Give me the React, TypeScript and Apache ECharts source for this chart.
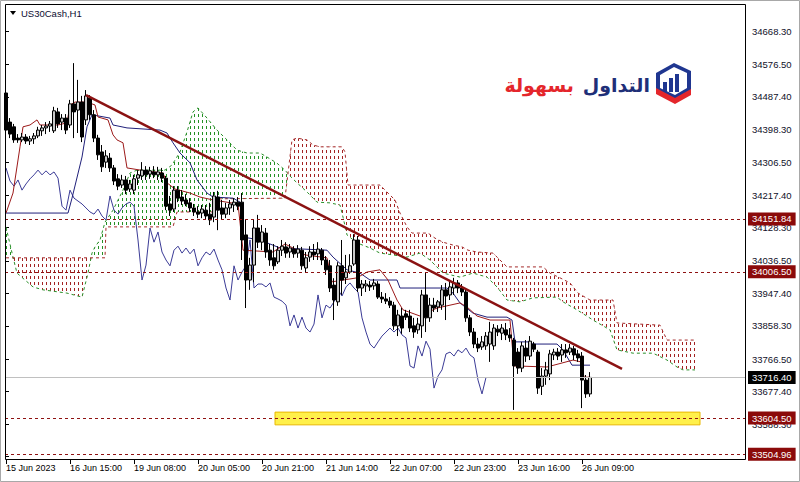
import React, { useEffect, useRef } from "react";
import * as echarts from "echarts";

// ---- price bars (hourly, index 0 = first visible bar) ----
const openPrices = [
  34498, 34418, 34405, 34374, 34369, 34377, 34366, 34372, 34380, 34394,
  34402, 34407, 34394, 34446, 34418, 34429, 34410, 34468, 34451, 34473,
  34424, 34484, 34438, 34374, 34336, 34308, 34319, 34292, 34262, 34245,
  34259, 34234, 34231, 34264, 34270, 34286, 34275, 34281, 34273, 34278,
  34264, 34193, 34179, 34231, 34212, 34204, 34196, 34182, 34171, 34168,
  34176, 34165, 34157, 34212, 34182, 34165, 34182, 34190, 34198, 34198,
  34108, 33984, 34025, 34127, 34088, 34113, 34066, 34045, 34034, 34066,
  34075, 34061, 34069, 34058, 34066, 34017, 34047, 34061, 34056, 34066,
  34039, 34023, 33970, 33924, 34023, 33990, 34006, 34028, 34094, 33962,
  33968, 33970, 33968, 33973, 33937, 33932, 33926, 33915, 33858, 33885,
  33891, 33885, 33858, 33847, 33858, 33943, 33880, 33915, 33910, 33915,
  33957, 33943, 33962, 33976, 33962, 33951, 33880, 33841, 33808, 33800,
  33803, 33808, 33803, 33849, 33838, 33847, 33833, 33819, 33786, 33742,
  33797, 33775, 33808, 33786, 33692, 33720, 33726, 33778, 33786, 33778,
  33792, 33786, 33795, 33781, 33775, 33709, 33671,
];
const highPrices = [
  34512, 34429, 34413, 34385, 34388, 34385, 34380, 34388, 34405, 34410,
  34418, 34421, 34460, 34457, 34440, 34440, 34479, 34580, 34534, 34490,
  34506, 34492, 34451, 34383, 34355, 34341, 34333, 34300, 34275, 34273,
  34270, 34259, 34273, 34286, 34308, 34297, 34295, 34297, 34295, 34292,
  34270, 34215, 34242, 34242, 34231, 34220, 34209, 34193, 34187, 34190,
  34190, 34196, 34226, 34229, 34204, 34196, 34204, 34209, 34212, 34223,
  34149, 34045, 34149, 34163, 34135, 34127, 34083, 34083, 34077, 34094,
  34088, 34083, 34077, 34080, 34075, 34061, 34077, 34083, 34088, 34072,
  34050, 34039, 33989, 34033, 34094, 34053, 34055, 34110, 34105, 33984,
  33984, 33981, 33987, 33981, 33951, 33948, 33937, 33924, 33902, 33907,
  33902, 33902, 33880, 33880, 33957, 34006, 33935, 33935, 33929, 33970,
  33976, 33979, 33990, 33984, 33973, 33957, 33888, 33852, 33825, 33830,
  33841, 33869, 33863, 33860, 33863, 33866, 33852, 33825, 33797, 33814,
  33819, 33830, 33814, 33792, 33742, 33759, 33792, 33795, 33797, 33808,
  33808, 33808, 33803, 33792, 33786, 33723, 33731,
];
const lowPrices = [
  34383, 34374, 34361, 34361, 34363, 34358, 34355, 34358, 34374, 34380,
  34385, 34391, 34388, 34402, 34396, 34385, 34402, 34374, 34388, 34363,
  34410, 34424, 34363, 34314, 34281, 34292, 34281, 34245, 34231, 34237,
  34220, 34226, 34220, 34245, 34259, 34259, 34262, 34264, 34259, 34253,
  34176, 34160, 34171, 34198, 34190, 34187, 34171, 34160, 34154, 34154,
  34149, 34135, 34143, 34121, 34149, 34154, 34163, 34171, 34176, 34039,
  33907, 33957, 33978, 34072, 34066, 34045, 34023, 34012, 34028, 34050,
  34045, 34045, 34045, 34045, 34012, 34006, 34034, 34039, 34039, 34025,
  33998, 33951, 33874, 33913, 33943, 33973, 34001, 34023, 33951, 33940,
  33951, 33954, 33957, 33932, 33921, 33918, 33907, 33847, 33830, 33836,
  33874, 33841, 33825, 33836, 33825, 33841, 33869, 33896, 33896, 33902,
  33874, 33929, 33943, 33948, 33940, 33869, 33830, 33797, 33786, 33792,
  33792, 33759, 33792, 33830, 33819, 33819, 33814, 33627, 33726, 33731,
  33759, 33764, 33786, 33671, 33668, 33696, 33709, 33764, 33764, 33759,
  33770, 33778, 33764, 33759, 33632, 33660, 33663,
];
const closePrices = [
  34396, 34385, 34369, 34369, 34377, 34366, 34372, 34380, 34396, 34402,
  34407, 34413, 34449, 34413, 34429, 34396, 34468, 34446, 34473, 34377,
  34490, 34438, 34374, 34328, 34295, 34325, 34292, 34256, 34242, 34259,
  34231, 34248, 34262, 34273, 34286, 34273, 34284, 34273, 34281, 34264,
  34187, 34176, 34231, 34209, 34201, 34193, 34182, 34171, 34165, 34179,
  34160, 34149, 34215, 34176, 34165, 34182, 34193, 34198, 34187, 34094,
  33984, 34025, 34127, 34088, 34116, 34061, 34039, 34023, 34066, 34077,
  34058, 34072, 34056, 34069, 34023, 34045, 34061, 34053, 34069, 34039,
  34012, 33962, 33929, 34023, 33984, 34006, 34023, 34094, 33962, 33973,
  33973, 33965, 33976, 33937, 33932, 33926, 33915, 33858, 33888, 33852,
  33882, 33852, 33841, 33863, 33943, 33880, 33915, 33907, 33924, 33957,
  33940, 33965, 33976, 33962, 33951, 33880, 33841, 33808, 33797, 33814,
  33830, 33841, 33852, 33841, 33852, 33833, 33825, 33748, 33742, 33803,
  33775, 33816, 33794, 33687, 33720, 33737, 33781, 33786, 33775, 33792,
  33784, 33797, 33778, 33770, 33709, 33671, 33716.4,
];

// ---- Ichimoku lines, read as vertices [bar index, price] ----
const tenkanLine = [
  [0, 34168], [1.75, 34223], [3.5, 34350], [4.25, 34405], [6, 34410], [7.75, 34424],
  [8.5, 34410], [13, 34410], [15.25, 34416], [16, 34465], [17.25, 34473], [20.25, 34473],
  [22.25, 34465], [23, 34432], [25.5, 34424], [26.75, 34383], [27.75, 34369], [29.25, 34361],
  [30.25, 34292], [34.75, 34284], [39.25, 34278], [40.25, 34251], [42.25, 34234], [46, 34223],
  [48.5, 34212], [51.75, 34204], [58, 34193], [59.25, 34066], [66.75, 34061], [69.75, 34083],
  [71.75, 34072], [74.75, 34053], [80.25, 34045], [81.5, 33979], [87.75, 33990], [90.25, 34006],
  [93.5, 34012], [95.5, 33984], [97.75, 33929], [99.25, 33902], [103.5, 33885], [107.75, 33907],
  [113.5, 33921], [115.25, 33910], [117.75, 33885], [121, 33874], [126, 33874], [127, 33748],
  [135.25, 33745], [141.75, 33764], [143.75, 33759], [144.5, 33717], [146, 33717],
];
const kijunLine = [
  [0, 34168], [15.5, 34168], [16.5, 34209], [19, 34322], [20.25, 34405], [21.5, 34438],
  [26, 34429], [26.75, 34410], [30.25, 34402], [38.5, 34396], [40.25, 34388], [41.75, 34361],
  [43.5, 34333], [46, 34306], [47.75, 34259], [50.25, 34223], [51.75, 34212], [56.75, 34209],
  [58.5, 34198], [59.25, 34102], [63.5, 34094], [68.5, 34072], [80.25, 34066], [81.75, 34047],
  [85.25, 34012], [88.5, 34003], [91, 33984], [97.75, 33984], [98.5, 33962], [110.25, 33962],
  [111.75, 33948], [113.5, 33921], [116.75, 33893], [120.25, 33882], [125.25, 33882],
  [126.5, 33874], [127.25, 33814], [130.5, 33814], [131.75, 33808], [137.75, 33808],
  [139.25, 33792], [141.5, 33750], [146, 33750],
];
const senkouA = [
  [0, 34130], [1.75, 34047], [2.75, 34003], [6.75, 33965], [9.25, 33957], [15.25, 33948],
  [19, 33937], [20.5, 34003], [21.5, 34058], [22.25, 34075], [23.5, 34094], [24.75, 34143],
  [26.75, 34176], [29.25, 34231], [31, 34278], [32.75, 34286], [39.75, 34286], [41.5, 34300],
  [43.5, 34336], [45.25, 34391], [46.75, 34446], [48, 34457], [50.25, 34429], [52.75, 34396],
  [55.25, 34369], [57.75, 34341], [60.25, 34333], [63.5, 34333], [65.25, 34322], [67.75, 34305],
  [69.75, 34286], [71, 34270], [72.75, 34251], [75.25, 34226], [77.75, 34198], [81, 34196],
  [83.5, 34190], [84.25, 34157], [85.25, 34108], [87.75, 34086], [91, 34072], [93.5, 34058],
  [96.75, 34053], [100.25, 34047], [103.5, 34058], [106, 34039], [109.25, 34003], [113.5, 33992],
  [116.75, 34003], [120.25, 33992], [122.75, 33965], [125.25, 33929], [128.5, 33924],
  [131.75, 33935], [137.75, 33937], [139.25, 33924], [142.75, 33902], [146.75, 33874],
  [151, 33847], [152.75, 33792], [156.75, 33783], [161.75, 33783], [165.25, 33764],
  [167.75, 33745], [169.25, 33737], [172.25, 33737],
];
const senkouB = [
  [0, 34045], [24.75, 34045], [25, 34130], [41.75, 34130], [42.75, 34171], [51.75, 34171],
  [52.75, 34207], [69.75, 34209], [71.5, 34369], [72.75, 34374], [75.25, 34369], [76.75, 34355],
  [78.5, 34350], [84, 34350], [84.75, 34336], [85.5, 34245], [93.5, 34245], [95.5, 34223],
  [97.25, 34204], [98.5, 34168], [100.25, 34130], [101.5, 34113], [105.5, 34113], [107.25, 34099],
  [109.25, 34088], [111.75, 34080], [114, 34075], [115.5, 34066], [117.75, 34061], [121.75, 34058],
  [123.5, 34039], [125.25, 34020], [134.25, 34020], [136, 34003], [138.5, 33990], [141, 33976],
  [143, 33948], [146, 33929], [151.75, 33929], [152.75, 33866], [163.5, 33860], [165.25, 33819],
  [172.25, 33819],
];
const cloudCrossings = [[1.75, 34046], [21.25, 34045], [70.5, 34278]];
const cloudIsBullish = [true, false, true, false];
const CHIKOU_SHIFT = 26;

// ---- drawn objects ----
const trendLine = [[20, 34492], [154, 33740]];
const dashedLevels = [34151.84, 34006.5, 33604.5, 33504.96];
const lastPrice = 33716.4;
const supportZone = [[67.25, 33621], [173.5, 33586]];

// ---- axes ----
const priceTicks = [
  34668.3, 34576.5, 34487.4, 34398.3, 34306.5, 34217.4, 34128.3,
  34036.5, 33947.4, 33858.3, 33766.5, 33677.4, 33588.3, 33499.2,
];
const timeTickBars = [0, 16, 32, 48, 64, 80, 96, 112, 128, 144];
const timeTickLabels = [
  "15 Jun 2023", "16 Jun 15:00", "19 Jun 08:00", "20 Jun 05:00", "20 Jun 21:00",
  "21 Jun 14:00", "22 Jun 07:00", "22 Jun 23:00", "23 Jun 16:00", "26 Jun 09:00",
];
const PRICE_MIN = 33489.4;
const PRICE_MAX = 34742.5;

const AXIS_FONT = "Liberation Sans";

function makeHatch(color: string) {
  const c = document.createElement("canvas");
  c.width = 4;
  c.height = 6;
  const ctx = c.getContext("2d")!;
  ctx.clearRect(0, 0, 4, 6);
  ctx.fillStyle = color;
  ctx.fillRect(2, 0, 1, 3);
  return { image: c, repeat: "repeat", imageWidth: 4, imageHeight: 6 } as any;
}

function buildCloudSegments() {
  const bounds = [0, ...cloudCrossings.map((c) => c[0]), 172.25];
  const segs: { a: number[][]; b: number[][]; bull: boolean }[] = [];
  for (let k = 0; k < bounds.length - 1; k++) {
    const x0 = bounds[k];
    const x1 = bounds[k + 1];
    const start = k === 0 ? null : cloudCrossings[k - 1];
    const end = k === bounds.length - 2 ? null : cloudCrossings[k];
    const pick = (line: number[][]) => {
      const inner = line.filter((p) => p[0] > x0 && p[0] < x1);
      const first = start ?? line[0];
      const last = end ?? line[line.length - 1];
      return [first, ...inner, last];
    };
    segs.push({ a: pick(senkouA), b: pick(senkouB), bull: cloudIsBullish[k] });
  }
  return segs;
}

export default function App() {
  const ref = useRef<HTMLDivElement>(null);

  useEffect(() => {
    if (!ref.current) return;
    const chart = echarts.init(ref.current, undefined, { renderer: "svg" });

    const candles = openPrices.map((o, i) => [i, o, closePrices[i], lowPrices[i], highPrices[i]]);
    const chikou = closePrices
      .map((c, i) => [i - CHIKOU_SHIFT, c])
      .filter((d) => d[0] >= 0);
    const segs = buildCloudSegments();
    const greenHatch = makeHatch("#239023");
    const redHatch = makeHatch("#a32222");

    const levelLine = (v: number) => ({
      yAxis: v,
      lineStyle: { color: "#8e1212", width: 1, type: [3, 3] },
      label: {
        show: true,
        position: "end",
        distance: 3,
        formatter: v.toFixed(2),
        backgroundColor: "#8b0a0a",
        color: "#ffffff",
        fontSize: 9.5,
        fontFamily: AXIS_FONT,
        padding: [2, 4, 1, 4],
      },
    });

    const option: any = {
      animation: false,
      backgroundColor: "#ffffff",
      grid: { left: 5, right: 55, top: 4, bottom: 22, show: false },
      xAxis: {
        type: "value",
        min: -0.25,
        max: 184.75,
        axisLine: { show: false },
        splitLine: { show: false },
        axisTick: {
          show: true,
          customValues: timeTickBars,
          length: 4,
          lineStyle: { color: "#000" },
        },
        axisLabel: {
          customValues: timeTickBars,
          formatter: (v: number) => timeTickLabels[timeTickBars.indexOf(Math.round(v))] ?? "",
          align: "left",
          margin: 3,
          color: "#000",
          fontSize: 9,
          fontFamily: AXIS_FONT,
        },
      },
      yAxis: {
        type: "value",
        position: "right",
        min: PRICE_MIN,
        max: PRICE_MAX,
        axisLine: { show: false },
        splitLine: { show: false },
        axisTick: {
          show: true,
          customValues: priceTicks,
          length: 3,
          inside: false,
          lineStyle: { color: "#000" },
        },
        axisLabel: {
          customValues: priceTicks,
          formatter: (v: number) => v.toFixed(2),
          margin: 7,
          color: "#101028",
          fontSize: 9.5,
          fontFamily: AXIS_FONT,
        },
      },
      series: [
        {
          name: "cloud",
          type: "custom",
          silent: true,
          z: 1,
          data: segs.map((s) => [s.a[0][0], s.a[0][1]]),
          renderItem: (params: any, api: any) => {
            const seg = segs[params.dataIndex];
            const pts = [...seg.a, ...seg.b.slice().reverse()].map((p) => api.coord(p));
            return {
              type: "polygon",
              shape: { points: pts },
              style: { fill: seg.bull ? greenHatch : redHatch, stroke: null },
            };
          },
        },
        {
          name: "Senkou A",
          type: "line",
          data: senkouA,
          symbol: "none",
          silent: true,
          z: 2,
          lineStyle: { color: "#2a8f2a", width: 1, type: [3, 3] },
        },
        {
          name: "Senkou B",
          type: "line",
          data: senkouB,
          symbol: "none",
          silent: true,
          z: 2,
          lineStyle: { color: "#a52a2a", width: 1, type: [3, 3] },
        },
        {
          name: "Chikou",
          type: "line",
          data: chikou,
          symbol: "none",
          silent: true,
          z: 3,
          lineStyle: { color: "#3b3b96", width: 1 },
        },
        {
          name: "Kijun",
          type: "line",
          data: kijunLine,
          symbol: "none",
          silent: true,
          z: 3,
          lineStyle: { color: "#20207a", width: 1 },
        },
        {
          name: "Tenkan",
          type: "line",
          data: tenkanLine,
          symbol: "none",
          silent: true,
          z: 3,
          lineStyle: { color: "#9c1a1a", width: 1 },
        },
        {
          name: "US30Cash",
          type: "candlestick",
          data: candles,
          encode: { x: 0, y: [1, 2, 3, 4] },
          barWidth: 3,
          silent: true,
          z: 4,
          itemStyle: {
            color: "#c8c8c8",
            color0: "#000000",
            borderColor: "#000000",
            borderColor0: "#000000",
            borderWidth: 1,
          },
        },
        {
          name: "levels",
          type: "line",
          data: trendLine,
          symbol: "none",
          silent: true,
          z: 6,
          lineStyle: { color: "#8b1212", width: 2.5 },
          markArea: {
            silent: true,
            itemStyle: { color: "#fff04a", borderColor: "#e9b800", borderWidth: 1 },
            data: [[{ coord: supportZone[0] }, { coord: supportZone[1] }]],
          },
          markLine: {
            silent: true,
            symbol: "none",
            animation: false,
            data: [
              ...dashedLevels.map(levelLine),
              {
                yAxis: lastPrice,
                lineStyle: { color: "#c0c0c0", width: 1, type: "solid" },
                label: {
                  show: true,
                  position: "end",
                  distance: 3,
                  formatter: lastPrice.toFixed(2),
                  backgroundColor: "#000000",
                  color: "#ffffff",
                  fontSize: 9.5,
                  fontFamily: AXIS_FONT,
                  padding: [2, 4, 1, 4],
                },
              },
            ],
          },
        },
      ],
      graphic: [
        {
          type: "rect",
          silent: true,
          z: 100,
          shape: { x: 0.5, y: 0.5, width: 799, height: 481 },
          style: { fill: "none", stroke: "#a8a8a8", lineWidth: 1 },
        },
        {
          type: "rect",
          silent: true,
          z: 100,
          shape: { x: 5.5, y: 4.5, width: 740, height: 455 },
          style: { fill: "none", stroke: "#000000", lineWidth: 1 },
        },
        {
          type: "polygon",
          silent: true,
          z: 100,
          shape: { points: [[10, 11], [16, 11], [13, 15]] },
          style: { fill: "#000" },
        },
        {
          type: "text",
          silent: true,
          z: 100,
          x: 21,
          y: 13,
          style: {
            text: "US30Cash,H1",
            fill: "#0c0c30",
            fontSize: 9.5,
            fontFamily: AXIS_FONT,
            verticalAlign: "middle",
            align: "left",
          },
        },
        // logo
        {
          type: "group",
          silent: true,
          z: 100,
          children: [
            {
              type: "polygon",
              shape: { points: [[656, 73], [674, 63], [691, 71], [691, 90], [675, 99], [656, 90]] },
              style: { fill: "#1f3690" },
            },
            {
              type: "polygon",
              shape: { points: [[660, 75], [674, 67], [687, 73], [687, 88], [675, 95], [660, 88]] },
              style: { fill: "#ffffff" },
            },
            { type: "rect", shape: { x: 663, y: 82, width: 4, height: 10 }, style: { fill: "#1f3690" } },
            { type: "rect", shape: { x: 669, y: 78, width: 4, height: 14 }, style: { fill: "#1f3690" } },
            { type: "rect", shape: { x: 675, y: 74, width: 4, height: 18 }, style: { fill: "#1f3690" } },
            {
              type: "polygon",
              shape: { points: [[656, 88], [675, 98], [691, 89], [691, 95], [675, 104], [656, 94]] },
              style: { fill: "#e4262b" },
            },
            {
              type: "text",
              x: 650,
              y: 85,
              style: {
                text: "التداول",
                fill: "#1f2f78",
                fontSize: 19,
                fontWeight: "bold",
                fontFamily: "DejaVu Sans",
                align: "right",
                verticalAlign: "middle",
              },
            },
            {
              type: "text",
              x: 574,
              y: 85,
              style: {
                text: "بسهولة",
                fill: "#e4262b",
                fontSize: 19,
                fontWeight: "bold",
                fontFamily: "DejaVu Sans",
                align: "right",
                verticalAlign: "middle",
              },
            },
          ],
        },
      ],
    };

    chart.setOption(option);
    return () => chart.dispose();
  }, []);

  return (
    <div
      ref={ref}
      style={{ position: "absolute", left: 0, top: 0, width: 800, height: 482, background: "#fff" }}
    />
  );
}
